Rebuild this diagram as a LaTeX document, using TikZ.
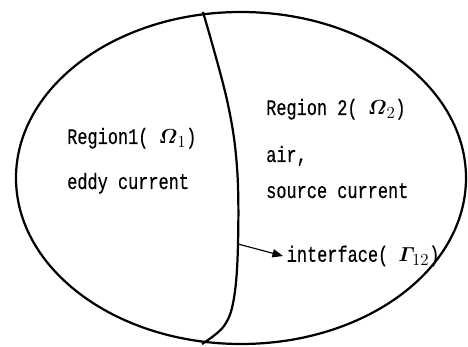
\documentclass[tikz,border=0pt]{standalone}
\usepackage{amsmath}
\usepackage{fontspec}
\setmonofont[FakeStretch=0.76, FakeBold=0.4]{Liberation Mono}
\usetikzlibrary{arrows.meta}
\newcommand{\regsym}[2]{$\boldsymbol{#1}_{#2}$}
\begin{document}
\begin{tikzpicture}[x=0.03cm, y=-0.03cm,
    lbl/.style={anchor=base west, inner sep=0pt, font=\ttfamily\fontsize{19}{21}\selectfont},
    edge/.style={line width=1.9pt}]
  \useasboundingbox (0,0) rectangle (468,347);
  % outer domain and interface
  \draw [edge] (241,178) ellipse [x radius=225, y radius=166];
  \draw [edge] plot [smooth, tension=0.6] coordinates {(203,12) (227,100)
    (237,167) (238,244) (234,298) (224,326) (202,344)};
  \coordinate (p) at (238,244);
  % labels
  \node [lbl] (reg1) at (67,144) {Region1( \regsym{\varOmega}{1})};
  \node [lbl] (eddy) at (67,189) {eddy current};
  \node [lbl] (reg2) at (266,115) {Region 2( \regsym{\varOmega}{2})};
  \node [lbl] (air) at (266,162) {air,};
  \node [lbl] (src) at (266,198) {source current};
  \node [lbl, anchor=west, inner sep=3pt] (iface) at (283,256)
    {interface( \regsym{\varGamma}{\!12})};
  \draw [line width=1pt, -{Triangle[length=9pt, width=7pt]}] (p) -- (iface.west);
\end{tikzpicture}
\end{document}
